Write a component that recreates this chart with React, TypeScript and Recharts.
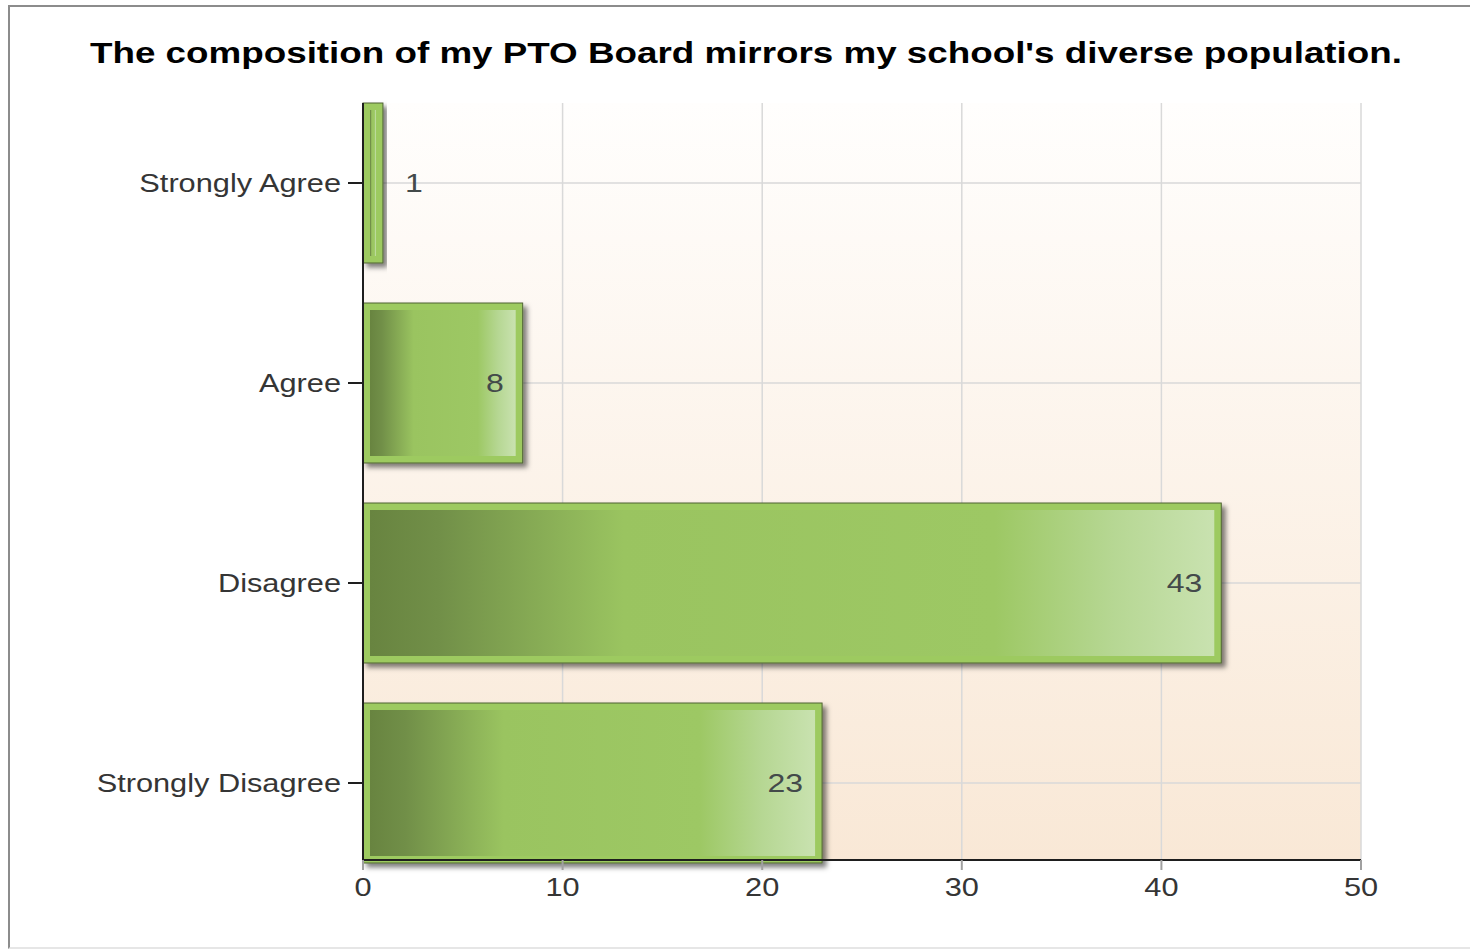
import { BarChart, Bar, XAxis, YAxis, CartesianGrid, LabelList } from 'recharts';

const categories = ['Strongly Agree', 'Agree', 'Disagree', 'Strongly Disagree'];
const responses = [1, 8, 43, 23];
const xTicks = [0, 10, 20, 30, 40, 50];

const data = categories.map((answer, i) => ({ answer, count: responses[i] }));

const FONT = '"Liberation Sans", Arial, sans-serif';
const STRETCH = 1.23;

const YTick = (props: any) => {
  const { x, y, payload } = props;
  return (
    <text
      transform={`translate(${x},${y}) scale(${STRETCH},1)`}
      textAnchor="end"
      dy="0.35em"
      fontSize={25}
      fontFamily={FONT}
      fill="#353535"
    >
      {payload.value}
    </text>
  );
};

const XTick = (props: any) => {
  const { x, y, payload } = props;
  return (
    <text
      transform={`translate(${x},${y}) scale(${STRETCH},1)`}
      textAnchor="middle"
      dy="0.71em"
      fontSize={25}
      fontFamily={FONT}
      fill="#353535"
    >
      {payload.value}
    </text>
  );
};

const BarShape = (props: any) => {
  const { x, y, width, height } = props;
  if (!width || width <= 0) return null;
  const inset = 7;
  const iw = Math.max(width - inset * 2, 2);
  const ix = width - inset * 2 > 2 ? x + inset : x + (width - 2) / 2;
  return (
    <g>
      <rect x={x} y={y} width={width} height={height} fill="#9dca60" stroke="#4f6335" strokeWidth={1} filter="url(#barShadow)" />
      <rect x={ix} y={y + inset} width={iw} height={height - inset * 2} fill="url(#barGrad)" />
    </g>
  );
};

const ValueLabel = (props: any) => {
  const { x, y, width, height, value } = props;
  const outside = width < 40;
  const lx = outside ? x + width + 22 : x + width - 19;
  return (
    <text
      transform={`translate(${lx},${y + height / 2}) scale(${STRETCH},1)`}
      textAnchor={outside ? 'start' : 'end'}
      dy="0.35em"
      fontSize={26}
      fontFamily={FONT}
      fill="#434a4a"
    >
      {value}
    </text>
  );
};

export default function App() {
  return (
    <div style={{ position: 'fixed', left: 0, top: 0, width: 1470, height: 951, overflow: 'hidden', background: '#fff' }}>
      <div
        style={{
          position: 'absolute',
          left: 8,
          top: 5,
          width: 1480,
          height: 944,
          border: '2px solid #8c8c8c',
          borderBottomColor: '#e6e6e6',
          boxSizing: 'border-box',
        }}
      />
      <svg style={{ position: 'absolute', left: 0, top: 0 }} width={1470} height={100}>
        <text
          x={90}
          y={63}
          textLength={1312}
          lengthAdjust="spacingAndGlyphs"
          fontSize={29}
          fontWeight="bold"
          fontFamily={FONT}
          fill="#000"
        >
          The composition of my PTO Board mirrors my school's diverse population.
        </text>
      </svg>
      <div style={{ position: 'absolute', left: 0, top: 0 }}>
        <BarChart
          width={1470}
          height={951}
          data={data}
          layout="vertical"
          margin={{ top: 103, right: 109, left: 0, bottom: 31 }}
        >
          <defs>
            <linearGradient id="bgGrad" x1="0" y1="0" x2="0" y2="1">
              <stop offset="0%" stopColor="#fffefd" />
              <stop offset="100%" stopColor="#f9e8d6" />
            </linearGradient>
            <linearGradient id="barGrad" x1="0" y1="0" x2="1" y2="0">
              <stop offset="0%" stopColor="#688440" />
              <stop offset="8%" stopColor="#718f48" />
              <stop offset="30%" stopColor="#9ac460" />
              <stop offset="74%" stopColor="#9dc864" />
              <stop offset="88%" stopColor="#b6d793" />
              <stop offset="100%" stopColor="#c9e2b0" />
            </linearGradient>
            <filter id="barShadow" x="-20%" y="-20%" width="140%" height="140%">
              <feDropShadow dx={4} dy={4} stdDeviation={2.5} floodColor="#000" floodOpacity={0.5} />
            </filter>
          </defs>
          <CartesianGrid stroke="#d9d9d9" strokeWidth={1.5} fill="url(#bgGrad)" syncWithTicks />
          <XAxis
            type="number"
            domain={[0, 50]}
            ticks={xTicks}
            height={60}
            tickSize={10}
            tickMargin={8}
            tick={<XTick />}
            axisLine={{ stroke: '#1e1e1e', strokeWidth: 2 }}
            tickLine={{ stroke: '#a0a0a0', strokeWidth: 2 }}
          />
          <YAxis
            type="category"
            dataKey="answer"
            width={363}
            padding={{ top: -20, bottom: -23 }}
            tickSize={15}
            tickMargin={7}
            tick={<YTick />}
            axisLine={{ stroke: '#1e1e1e', strokeWidth: 2 }}
            tickLine={{ stroke: '#1e1e1e', strokeWidth: 2 }}
          />
          <Bar dataKey="count" barSize={160} shape={<BarShape />} isAnimationActive={false}>
            <LabelList dataKey="count" content={<ValueLabel />} />
          </Bar>
        </BarChart>
      </div>
    </div>
  );
}
